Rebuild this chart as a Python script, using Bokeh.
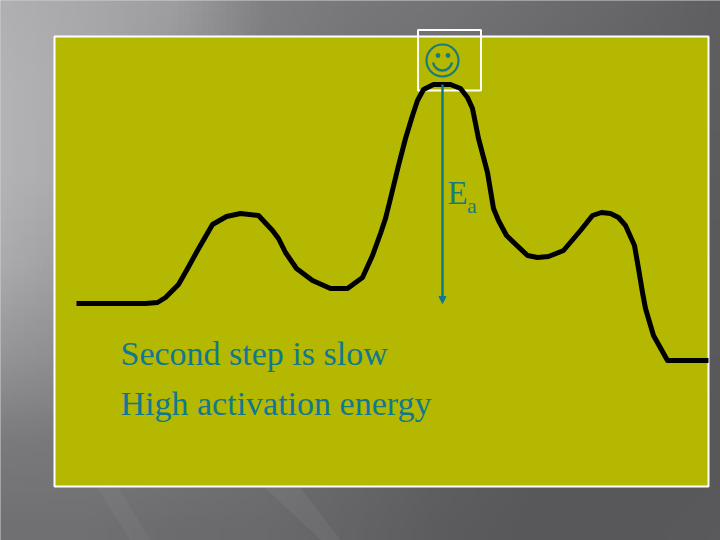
import numpy as np
from bokeh.plotting import figure
from bokeh.models import Range1d, Arrow, NormalHead
from bokeh.core.properties import value
from bokeh.embed import file_html
from bokeh.resources import INLINE

curve_x = [76, 145, 157, 165, 178, 186, 197, 212, 226, 240, 258, 272, 278, 285, 296, 312, 330, 347, 362, 372,
           380, 385, 390, 398, 405, 412, 417, 423, 433, 450, 460, 467, 472, 478, 487, 493, 498, 506, 527, 537,
           548, 563, 580, 592, 601, 610, 618, 625, 634, 638, 642, 645, 653, 667, 708]
curve_y = [303, 303, 302, 297, 284, 270, 250, 224, 216, 213, 215, 230, 238, 252, 268, 280, 288, 288, 277, 255,
           233, 218, 198, 165, 138, 115, 100, 89, 84, 84, 88, 97, 108, 138, 172, 208, 220, 235, 255, 257,
           256, 250, 230, 215, 212, 213, 217, 225, 245, 268, 292, 308, 335, 360, 360]
label_lines = ["Second step is slow", "High activation energy"]
ea_main = "E"
ea_sub = "a"
arrow_x = 442
arrow_top = 84
arrow_bottom = 303

# background shade readings on a coarse lattice (x 0..720, y 0..540)
shade_x = [0, 90, 180, 270, 360, 450, 540, 630, 720]
shade_y = [0, 90, 180, 270, 360, 450, 540]
shades = [
    [176, 168, 158, 128, 120, 116, 110, 104, 96],
    [180, 170, 150, 125, 115, 110, 104, 98, 94],
    [180, 168, 145, 125, 110, 105, 100, 96, 92],
    [172, 155, 140, 120, 108, 100, 96, 92, 90],
    [150, 140, 130, 115, 105, 98, 92, 90, 90],
    [122, 120, 118, 112, 104, 96, 90, 88, 88],
    [112, 112, 108, 106, 100, 92, 88, 88, 90],
]

PANEL = "#b4b800"
BLUE = "#11788f"
TEAL = "#1b7a80"
SERIF = value("Liberation Serif")

p = figure(width=720, height=540, output_backend="svg", toolbar_location=None,
           x_range=Range1d(0, 720), y_range=Range1d(540, 0), min_border=0,
           outline_line_color=None, background_fill_color="#aaa8ad", border_fill_color=None)
p.axis.visible = False
p.grid.visible = False
p.styles = {"position": "absolute", "left": "0px", "top": "0px"}

# background
S = np.array(shades, dtype=float)
gx = np.arange(0, 733, 6)
gy = np.arange(0, 553, 6)
tmp = np.array([np.interp(gx, shade_x, r) for r in S])
G = np.array([np.interp(gy, shade_y, c) for c in tmp.T]).T.astype(np.uint32)
img = (255 << 24) | (G + 2 << 16) | (G << 8) | G  # little-endian: ABGR
p.image_rgba(image=[img.astype(np.uint32)], x=-6, y=-6, dw=732, dh=552)

# bottom streaks
p.patch([96, 118, 150, 130], [487, 487, 540, 540], fill_color="white", fill_alpha=0.04, line_color=None)
p.patch([264, 300, 340, 321], [487, 487, 540, 540], fill_color="white", fill_alpha=0.05, line_color=None)

p.quad(left=[54], right=[708], top=[36], bottom=[486], fill_color=PANEL, line_color="white", line_width=2)
p.quad(left=[417.5], right=[480.5], top=[29.5], bottom=[90], fill_color=None, line_color="white", line_width=2)

p.line(curve_x, curve_y, line_color="black", line_width=5, line_join="round")

p.add_layout(Arrow(end=NormalHead(size=7, fill_color=BLUE, line_color=BLUE),
                   x_start=arrow_x, y_start=arrow_top, x_end=arrow_x, y_end=arrow_bottom,
                   line_color=BLUE, line_width=2.5))

# smiley
p.circle(x=[442], y=[60], radius=16, fill_color=None, line_color=TEAL, line_width=2.2)
p.circle(x=[437.5, 447.5], y=[55, 55], radius=2.4, fill_color=TEAL, line_color=None)
p.arc(x=[442], y=[60.4], radius=9.6, start_angle=np.pi + 0.17, end_angle=2 * np.pi - 0.17, direction="anticlock",
      line_color=TEAL, line_width=2.4)

p.text(x=[120, 120], y=[352.5, 402.5], text=label_lines, text_font=SERIF, text_font_size="34px",
       text_color=BLUE, text_baseline="alphabetic")
p.text(x=[447], y=[192], text=[ea_main], text_font=SERIF, text_font_size="33px",
       text_color=TEAL, text_baseline="alphabetic")
p.text(x=[466.5], y=[205], text=[ea_sub], text_font=SERIF, text_font_size="22px",
       text_color=TEAL, text_baseline="alphabetic")

open("out.html", "w").write(file_html(p, INLINE))
